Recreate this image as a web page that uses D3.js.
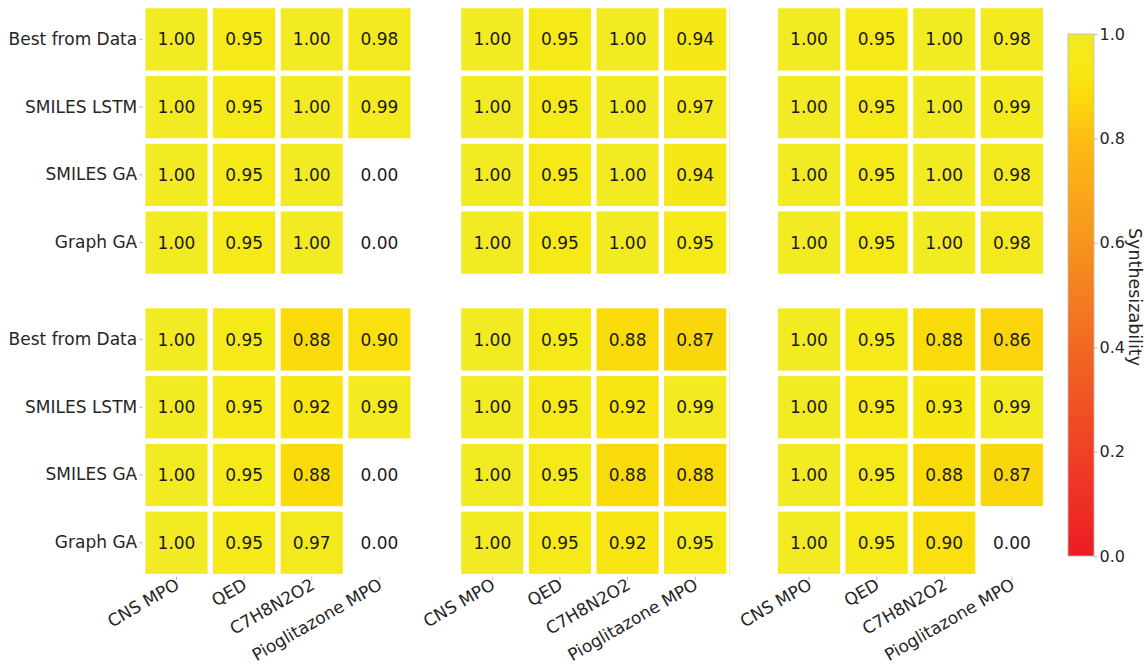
<!DOCTYPE html>
<html>
<head>
<meta charset="utf-8">
<script src="https://cdn.jsdelivr.net/npm/d3@7"></script>
<style>
  body { margin: 0; background: #fff; }
  text { font-family: "DejaVu Sans", sans-serif; }
</style>
</head>
<body>
<div id="chart"></div>
<script>
// categories and model names
const tasks = ["CNS MPO", "QED", "C7H8N2O2", "Pioglitazone MPO"];
const models = ["Best from Data", "SMILES LSTM", "SMILES GA", "Graph GA"];

// one 4x4 grid per panel, rows follow models, columns follow tasks
const topLeft = [[1.00, 0.95, 1.00, 0.98], [1.00, 0.95, 1.00, 0.99], [1.00, 0.95, 1.00, 0.00], [1.00, 0.95, 1.00, 0.00]];
const topMiddle = [[1.00, 0.95, 1.00, 0.94], [1.00, 0.95, 1.00, 0.97], [1.00, 0.95, 1.00, 0.94], [1.00, 0.95, 1.00, 0.95]];
const topRight = [[1.00, 0.95, 1.00, 0.98], [1.00, 0.95, 1.00, 0.99], [1.00, 0.95, 1.00, 0.98], [1.00, 0.95, 1.00, 0.98]];
const bottomLeft = [[1.00, 0.95, 0.88, 0.90], [1.00, 0.95, 0.92, 0.99], [1.00, 0.95, 0.88, 0.00], [1.00, 0.95, 0.97, 0.00]];
const bottomMiddle = [[1.00, 0.95, 0.88, 0.87], [1.00, 0.95, 0.92, 0.99], [1.00, 0.95, 0.88, 0.88], [1.00, 0.95, 0.92, 0.95]];
const bottomRight = [[1.00, 0.95, 0.88, 0.86], [1.00, 0.95, 0.93, 0.99], [1.00, 0.95, 0.88, 0.87], [1.00, 0.95, 0.90, 0.00]];

const cbarTicks = [0.0, 0.2, 0.4, 0.6, 0.8, 1.0];
const cbarLabel = "Synthesizability";

const panels = [
    {data: topLeft, row: 0, col: 0},
    {data: topMiddle, row: 0, col: 1},
    {data: topRight, row: 0, col: 2},
    {data: bottomLeft, row: 1, col: 0},
    {data: bottomMiddle, row: 1, col: 1},
    {data: bottomRight, row: 1, col: 2}
];

const W = 1144, H = 665;
const panelLeft = [142.7, 458.5, 775.2];
const panelTop = [5.5, 305.6];
const panelW = 270.5, panelH = 271;
const gap = 5.5;

// red -> orange -> yellow map
const color = d3.scaleLinear()
    .domain([0, 0.2, 0.4, 0.6, 0.8, 0.88, 0.93, 1.0])
    .range(["#ed1c24", "#ef4125", "#f26722", "#f7941d", "#fdbd12", "#fadb0a", "#f7e814", "#f2ea22"])
    .clamp(true);

const svg = d3.select("#chart")
    .append("svg")
    .attr("width", W)
    .attr("height", H);

const fmt = d3.format(".2f");

panels.forEach(function(p) {
    const x0 = panelLeft[p.col], y0 = panelTop[p.row];
    const xScale = d3.scaleBand().domain(tasks).range([x0, x0 + panelW]);
    const yScale = d3.scaleBand().domain(models).range([y0, y0 + panelH]);

    const cells = [];
    p.data.forEach(function(r, i) {
        r.forEach(function(v, j) {
            cells.push({model: models[i], task: tasks[j], value: v});
        });
    });

    const g = svg.append("g");

    // zero values are masked (left blank)
    g.selectAll(".cell")
        .data(cells.filter(d => d.value > 0))
        .enter()
        .append("rect")
        .attr("class", "cell")
        .attr("x", d => xScale(d.task) + gap / 2)
        .attr("y", d => yScale(d.model) + gap / 2)
        .attr("width", xScale.bandwidth() - gap)
        .attr("height", yScale.bandwidth() - gap)
        .attr("fill", d => color(d.value));

    g.selectAll(".annot")
        .data(cells)
        .enter()
        .append("text")
        .attr("class", "annot")
        .attr("x", d => xScale(d.task) + xScale.bandwidth() / 2)
        .attr("y", d => yScale(d.model) + yScale.bandwidth() / 2)
        .attr("dy", "0.36em")
        .attr("text-anchor", "middle")
        .style("font-size", "17px")
        .attr("fill", "#1a1a1a")
        .text(d => fmt(d.value));

    // faint spine on the middle column's right edge
    if (p.col === 1) {
        g.append("line")
            .attr("x1", x0 + panelW + 0.5).attr("x2", x0 + panelW + 0.5)
            .attr("y1", y0).attr("y2", y0 + panelH)
            .attr("stroke", "#f6f0b8")
            .attr("stroke-width", 1);
    }

    // y labels on the left column only
    if (p.col === 0) {
        const ya = g.append("g")
            .attr("transform", "translate(" + x0 + ",0)")
            .call(d3.axisLeft(yScale).tickSize(3.5).tickPadding(2));
        ya.select(".domain").remove();
        ya.selectAll("line").attr("stroke", "#aaa").attr("stroke-width", 0.8);
        ya.selectAll("text")
            .style("font-size", "17px")
            .attr("fill", "#262626");
    }

    // x labels on the bottom row only
    if (p.row === 1) {
        const xa = g.append("g")
            .attr("transform", "translate(0," + (y0 + panelH) + ")")
            .call(d3.axisBottom(xScale).tickSize(3.5).tickFormat(""));
        xa.select(".domain").remove();
        xa.selectAll("line").attr("stroke", "#aaa").attr("stroke-width", 0.8);

        g.selectAll(".xlab")
            .data(tasks)
            .enter()
            .append("text")
            .attr("class", "xlab")
            .attr("transform", d => "translate(" + (xScale(d) + xScale.bandwidth() / 2 + 4) + "," + (y0 + panelH + 11.5) + ") rotate(-30)")
            .attr("text-anchor", "end")
            .style("font-size", "17px")
            .attr("fill", "#262626")
            .text(d => d);
    }
});

// colour bar
const cbX = 1068, cbY = 34, cbW = 26, cbH = 522;
const defs = svg.append("defs");
const grad = defs.append("linearGradient")
    .attr("id", "cbar")
    .attr("x1", 0).attr("y1", 1).attr("x2", 0).attr("y2", 0);
d3.range(0, 1.0001, 0.02).forEach(function(t) {
    grad.append("stop")
        .attr("offset", t)
        .attr("stop-color", color(t));
});

svg.append("rect")
    .attr("x", cbX).attr("y", cbY)
    .attr("width", cbW).attr("height", cbH)
    .attr("fill", "url(#cbar)")
    .attr("stroke", "#bbb")
    .attr("stroke-width", 0.8);

const cScale = d3.scaleLinear().domain([0, 1]).range([cbY + cbH, cbY]);
const ca = svg.append("g")
    .attr("transform", "translate(" + (cbX + cbW) + ",0)")
    .call(d3.axisRight(cScale).tickValues(cbarTicks).tickFormat(d3.format(".1f")).tickSize(3.5).tickPadding(2));
ca.select(".domain").remove();
ca.selectAll("line").attr("stroke", "#aaa").attr("stroke-width", 0.8);
ca.selectAll("text")
    .style("font-size", "16px")
    .attr("fill", "#262626");

svg.append("text")
    .attr("transform", "translate(1129," + (cbY + cbH / 2 + 2) + ") rotate(90)")
    .attr("text-anchor", "middle")
    .style("font-size", "17.5px")
    .attr("fill", "#262626")
    .text(cbarLabel);
</script>
</body>
</html>
